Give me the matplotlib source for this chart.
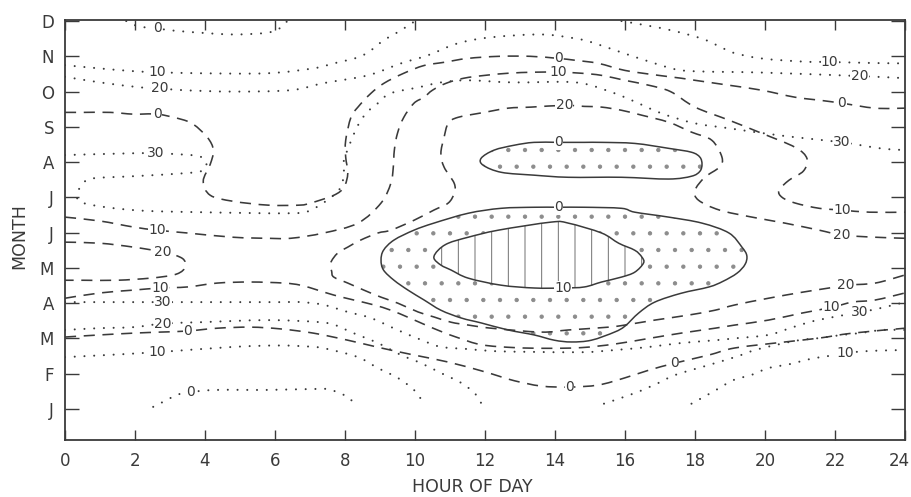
import numpy as np
import matplotlib
matplotlib.use("Agg")
import matplotlib.pyplot as plt
import matplotlib.transforms as mtransforms
from matplotlib.path import Path
from matplotlib.patches import PathPatch

plt.rcParams['font.family'] = ['DejaVu Sans']
plt.rcParams['lines.scale_dashes'] = False
plt.rcParams['hatch.linewidth'] = 0.7

# ---------------- axes content ----------------
month_labels = ['J', 'F', 'M', 'A', 'M', 'J', 'J', 'A', 'S', 'O', 'N', 'D']
hour_ticks = list(range(0, 25, 2))

# Isolines: (hour of day, month index J=0 ... D=11)
# ---- dotted isolines ----
dot_0_top = [(1.75, 11.0), (2.1, 10.85), (2.64, 10.79), (3.1, 10.73), (4.0, 10.66), (4.8, 10.62),
             (5.6, 10.65), (6.0, 10.72), (6.2, 10.85), (6.35, 11.0)]
dot_10_top_left = [(0, 9.75), (0.95, 9.66), (1.95, 9.58), (2.63, 9.55), (3.87, 9.52), (5.79, 9.52),
                   (7.1, 9.66), (7.68, 9.8), (8.37, 9.97), (8.74, 10.17), (9.1, 10.45), (9.6, 10.74),
                   (10.0, 11.0)]
dot_10_top_right = [(15.9, 11.0), (16.6, 10.88), (17.4, 10.72), (18.2, 10.5), (18.7, 10.28),
                    (19.1, 10.1), (19.9, 9.94), (21.1, 9.85), (21.85, 9.84), (23.1, 9.81), (24, 9.8)]
dot_20_top = [(0, 9.42), (1.0, 9.26), (2.15, 9.12), (2.72, 9.09), (3.38, 9.04), (4.81, 9.0),
              (6.45, 9.04), (7.39, 9.24), (8.65, 9.46), (9.6, 9.8), (10.37, 10.03), (11.23, 10.37),
              (12.18, 10.54), (13.61, 10.62), (14.56, 10.51), (15.04, 10.4), (15.9, 10.11),
              (16.85, 9.8), (17.5, 9.62), (18.2, 9.57), (19.9, 9.54), (22.7, 9.44), (24, 9.38)]
dot_30_upper = [(0, 7.2), (1.9, 7.25), (2.6, 7.25), (3.6, 7.2), (3.9, 7.14), (4.04, 6.97),
                (3.95, 6.77), (3.5, 6.69), (1.95, 6.6), (0.8, 6.54), (0.52, 6.4), (0.37, 6.12),
                (0.52, 5.84), (1.95, 5.64), (3.87, 5.58), (6.45, 5.55), (7.02, 5.64), (7.6, 6.0),
                (7.88, 6.29), (7.97, 6.69), (7.97, 7.05), (8.3, 7.9), (8.6, 8.38), (8.94, 8.67),
                (9.3, 8.95), (10.1, 9.12), (10.74, 9.26), (11.5, 9.32), (12.8, 9.26), (14.6, 9.26),
                (15.62, 8.98), (16.2, 8.75), (17.05, 8.38), (18.0, 8.1), (18.97, 7.96), (20.4, 7.76),
                (22.2, 7.56), (23.3, 7.39), (24, 7.34)]
dot_30_lower = [(0, 3.03), (2.8, 3.03), (3.9, 3.03), (6.2, 3.03), (6.75, 3.03), (7.4, 2.95),
                (8.08, 2.75), (8.74, 2.58), (9.5, 2.24), (10.2, 1.95), (10.74, 1.76), (11.5, 1.7),
                (12.26, 1.64), (13.3, 1.62), (14.8, 1.61), (15.7, 1.67), (16.7, 1.76), (17.6, 1.87),
                (18.6, 1.95), (19.1, 2.0), (20.1, 2.1), (20.8, 2.32), (21.5, 2.52), (22.7, 2.74),
                (23.3, 2.86), (24, 3.03)]
dot_20_lower_left = [(0, 2.24), (0.95, 2.29), (1.95, 2.32), (2.8, 2.42), (3.87, 2.46), (5.79, 2.52),
                     (7.3, 2.46), (7.8, 2.35), (8.17, 2.18), (8.94, 1.87), (9.6, 1.53), (10.17, 1.3),
                     (10.74, 1.02), (11.32, 0.74), (11.7, 0.45), (11.9, 0.15)]
dot_20_lower_right = [(15.4, 0.15), (16.28, 0.45), (16.96, 0.74), (17.42, 0.96), (18.2, 1.19),
                      (19.14, 1.47), (19.71, 1.67), (20.29, 1.81), (20.97, 1.95), (21.55, 2.01),
                      (22.2, 2.1), (22.7, 2.15), (23.35, 2.24), (24, 2.24)]
dot_10_lower_left = [(0, 1.47), (1.0, 1.52), (2.63, 1.61), (4.8, 1.76), (6.16, 1.8), (7.1, 1.76),
                     (7.5, 1.7), (8.37, 1.47), (8.94, 1.16), (9.51, 0.88), (9.97, 0.54), (10.26, 0.15)]
dot_10_lower_right = [(17.9, 0.15), (18.5, 0.48), (19.1, 0.82), (19.6, 0.96), (20.1, 1.16),
                      (20.7, 1.27), (21.3, 1.42), (21.8, 1.5), (22.3, 1.59), (23.1, 1.65), (24, 1.67)]
dot_0_lower = [(2.52, 0.06), (2.9, 0.25), (3.2, 0.4), (3.58, 0.48), (4.35, 0.54), (5.8, 0.54),
               (7.3, 0.57), (7.6, 0.54), (8.08, 0.34), (8.25, 0.15)]

# ---- dashed isolines ----
dash_0_top = [(0, 8.41), (0.52, 8.41), (1.3, 8.41), (1.95, 8.36), (2.63, 8.36), (3.3, 8.22),
              (3.67, 8.07), (4.07, 7.7), (4.24, 7.34), (4.15, 6.94), (3.95, 6.46), (4.15, 6.06),
              (4.8, 5.89), (5.8, 5.78), (6.7, 5.78), (7.02, 5.84), (7.68, 6.06), (7.97, 6.29),
              (8.08, 6.69), (8.02, 7.14), (8.02, 7.62), (8.17, 8.27), (8.37, 8.56), (8.74, 8.95),
              (9.12, 9.24), (9.68, 9.52), (10.26, 9.74), (10.83, 9.83), (11.5, 9.94), (12.4, 10.0),
              (13.3, 10.0), (14.1, 9.94), (14.56, 9.89), (15.24, 9.8), (16.0, 9.6), (16.96, 9.46),
              (17.6, 9.38), (18.0, 9.32), (18.97, 9.18), (19.9, 9.04), (20.86, 8.84), (21.6, 8.75),
              (22.2, 8.67), (23.15, 8.53), (24, 8.53)]
dash_10_upper = [(0, 5.44), (1.0, 5.33), (1.95, 5.16), (2.63, 5.07), (3.5, 4.99), (4.8, 4.87),
                 (5.8, 4.84), (6.45, 4.84), (7.39, 4.99), (8.37, 5.27), (9.03, 5.84), (9.31, 6.4),
                 (9.38, 6.86), (9.41, 7.34), (9.5, 7.82), (9.68, 8.27), (9.97, 8.67), (10.26, 8.84),
                 (10.5, 9.04), (10.9, 9.24), (11.4, 9.38), (12.0, 9.46), (12.66, 9.52), (13.4, 9.55),
                 (14.1, 9.55), (14.76, 9.52), (15.33, 9.46), (15.99, 9.32), (16.68, 9.18),
                 (17.3, 9.0), (18.0, 8.56), (18.97, 8.19), (19.9, 7.82), (20.86, 7.42), (21.2, 7.1),
                 (21.1, 6.75), (20.69, 6.49), (20.4, 6.2), (20.49, 6.0), (20.86, 5.84), (21.55, 5.69),
                 (22.2, 5.64), (22.98, 5.58), (24, 5.58)]
dash_20_main = [(24, 4.84), (23.15, 4.87), (22.2, 4.93), (21.55, 5.07), (20.57, 5.27), (19.63, 5.44),
                (18.7, 5.64), (18.1, 5.92), (18.0, 6.2), (18.28, 6.57), (18.7, 6.86), (18.77, 7.14),
                (18.48, 7.62), (17.9, 7.85), (17.25, 8.13), (16.48, 8.33), (15.9, 8.47), (15.33, 8.56),
                (14.84, 8.58), (14.27, 8.61), (13.32, 8.56), (12.66, 8.53), (11.98, 8.41), (11.23, 8.27),
                (10.95, 8.1), (10.83, 7.7), (10.74, 7.25), (10.83, 6.86), (11.12, 6.4), (11.12, 6.12),
                (10.95, 5.84), (10.54, 5.64), (9.97, 5.35), (9.31, 5.07), (8.94, 4.99), (8.45, 4.79),
                (8.08, 4.59), (7.79, 4.42), (7.59, 4.14), (7.62, 3.9), (7.68, 3.74), (8.08, 3.57),
                (8.54, 3.37), (9.03, 3.17), (9.51, 3.0), (10.09, 2.75), (10.54, 2.61), (11.03, 2.46),
                (11.52, 2.38), (12.18, 2.29), (13.6, 2.18), (14.38, 2.24), (15.53, 2.32), (16.0, 2.38),
                (16.85, 2.52), (17.8, 2.66), (18.57, 2.8), (19.14, 2.95), (20.1, 3.14), (21.06, 3.31),
                (21.83, 3.43), (22.3, 3.51), (23.15, 3.57), (24, 3.8)]
dash_20_left = [(0, 4.73), (1.0, 4.7), (1.95, 4.59), (2.8, 4.45), (3.3, 4.3), (3.44, 4.14),
                (3.38, 3.94), (3.1, 3.8), (2.44, 3.71), (1.49, 3.65), (0.52, 3.65), (0, 3.65)]
dash_10_lower = [(0, 3.14), (1.0, 3.29), (1.95, 3.37), (2.72, 3.43), (3.5, 3.46), (4.35, 3.57),
                 (5.3, 3.6), (6.25, 3.57), (6.73, 3.51), (7.22, 3.37), (7.68, 3.23), (8.25, 3.09),
                 (8.83, 2.95), (9.31, 2.8), (9.8, 2.6), (10.26, 2.4), (10.74, 2.2), (11.23, 2.02),
                 (11.9, 1.82), (12.84, 1.74), (13.8, 1.72), (14.76, 1.74), (15.7, 1.84), (16.68, 2.0),
                 (17.6, 2.15), (18.57, 2.29), (19.14, 2.38), (20.1, 2.52), (21.06, 2.72), (21.9, 2.88),
                 (22.5, 3.03), (23.15, 3.09), (24, 3.29)]
dash_0_lower = [(0, 2.04), (1.0, 2.1), (1.95, 2.15), (2.72, 2.18), (3.5, 2.21), (4.35, 2.29),
                (5.3, 2.32), (6.16, 2.27), (7.1, 2.15), (8.08, 1.95), (9.03, 1.73), (9.97, 1.53),
                (10.95, 1.33), (11.9, 1.08), (12.4, 0.93), (12.84, 0.8), (13.6, 0.65), (14.41, 0.62),
                (15.24, 0.68), (15.99, 0.88), (16.68, 1.1), (17.42, 1.3), (18.4, 1.53), (19.14, 1.73),
                (20.57, 1.9), (21.55, 2.01), (22.5, 2.15), (24, 2.29)]

# ---- solid isolines (closed) ----
solid_0_small = [(14.1, 7.56), (13.4, 7.56), (12.84, 7.48), (12.26, 7.34), (11.89, 7.11),
                 (11.95, 6.91), (12.47, 6.71), (13.4, 6.63), (14.38, 6.57), (15.9, 6.57),
                 (17.25, 6.52), (17.9, 6.6), (18.14, 6.74), (18.2, 6.94), (18.14, 7.14), (17.9, 7.28),
                 (17.25, 7.39), (16.28, 7.53), (15.33, 7.56), (14.84, 7.56)]
solid_0_big = [(14.1, 5.72), (14.84, 5.72), (15.9, 5.69), (16.28, 5.58), (17.25, 5.44), (18.2, 5.27),
               (18.97, 4.99), (19.34, 4.59), (19.48, 4.35), (19.43, 4.1), (19.2, 3.85), (18.8, 3.62),
               (18.4, 3.46), (17.6, 3.28), (16.85, 3.03), (16.39, 2.72), (16.0, 2.35), (15.7, 2.18),
               (15.04, 1.95), (14.47, 1.9), (13.98, 1.95), (13.4, 2.1), (12.66, 2.24), (11.89, 2.44),
               (11.32, 2.58), (10.74, 2.8), (10.26, 3.09), (9.8, 3.37), (9.4, 3.65), (9.1, 3.94),
               (9.03, 4.22), (9.1, 4.5), (9.4, 4.79), (9.97, 5.07), (10.54, 5.27), (11.52, 5.55),
               (12.46, 5.69), (13.41, 5.72)]
solid_10 = [(14.24, 3.43), (14.84, 3.46), (15.33, 3.6), (15.9, 3.74), (16.28, 3.88), (16.53, 4.14),
            (16.48, 4.31), (16.28, 4.5), (15.82, 4.7), (15.33, 4.99), (14.38, 5.27), (13.9, 5.3),
            (12.38, 5.07), (11.52, 4.87), (10.95, 4.7), (10.66, 4.5), (10.54, 4.28), (10.74, 4.08),
            (11.03, 3.94), (11.52, 3.71), (12.46, 3.51), (13.41, 3.43)]

# ---- isoline labels ----
label_hour = [2.64, 2.63, 2.72, 2.6, 2.63, 2.63, 2.8, 2.72, 2.8, 2.8, 3.5, 2.63, 3.58,
              14.1, 14.1, 14.27, 14.1, 14.1, 14.24, 14.41, 17.42,
              21.85, 22.7, 22.2, 22.2, 22.2, 22.2, 22.3, 21.9, 22.7, 22.3]
label_month = [10.79, 9.55, 9.09, 7.25, 8.36, 5.07, 4.45, 3.43, 3.03, 2.42, 2.21, 1.61, 0.48,
               9.94, 9.55, 8.61, 7.56, 5.72, 3.43, 0.62, 1.3,
               9.84, 9.44, 8.67, 7.56, 5.64, 4.93, 3.51, 2.88, 2.74, 1.59]
label_text = ['0', '10', '20', '30', '0', '10', '20', '10', '30', '20', '0', '10', '0',
              '0', '10', '20', '0', '0', '10', '0', '0',
              '10', '20', '0', '30', '10', '20', '20', '10', '30', '10']

INK = '#3a3a3a'


def smooth_path(pts, closed=False):
    P = np.asarray(pts, dtype=float)
    n = len(P)
    if closed:
        ext = np.vstack([P[-1:], P, P[:2]])
        segs = n
    else:
        ext = np.vstack([P[:1], P, P[-1:]])
        segs = n - 1
    verts = [P[0]]
    codes = [Path.MOVETO]
    for i in range(segs):
        p0, p1, p2, p3 = ext[i], ext[i + 1], ext[i + 2], ext[i + 3]
        verts += [p1 + (p2 - p0) / 6.0, p2 - (p3 - p1) / 6.0, p2]
        codes += [Path.CURVE4] * 3
    if closed:
        verts.append(P[0])
        codes.append(Path.CLOSEPOLY)
    return Path(np.array(verts), codes)


fig = plt.figure(figsize=(9.12, 4.97), dpi=100)
ax = fig.add_axes([65 / 912, 1 - 440 / 497, (905 - 65) / 912, (440 - 20) / 497])
ax.set_xlim(0, 24)
ax.set_ylim(-0.88, 11.03)

# shaded regions
for poly in (solid_0_small, solid_0_big):
    ax.add_patch(PathPatch(smooth_path(poly, True), facecolor='none', edgecolor='#8c8c8c',
                           lw=0, hatch='.', zorder=1))
ax.add_patch(PathPatch(smooth_path(solid_10, True), facecolor='white', edgecolor='#707070',
                       lw=0, hatch='|', zorder=1.5))

dotted_style = dict(fill=False, edgecolor=INK, lw=1.5, linestyle=(0, (0.01, 7.0)),
                    capstyle='round', zorder=3)
dashed_style = dict(fill=False, edgecolor=INK, lw=1.15, linestyle=(0, (8.0, 5.5)),
                    capstyle='butt', zorder=3)
solid_style = dict(fill=False, edgecolor=INK, lw=1.1, zorder=3)

for line in (dot_0_top, dot_10_top_left, dot_10_top_right, dot_20_top, dot_30_upper,
             dot_30_lower, dot_20_lower_left, dot_20_lower_right, dot_10_lower_left,
             dot_10_lower_right, dot_0_lower):
    ax.add_patch(PathPatch(smooth_path(line), **dotted_style))

for line in (dash_0_top, dash_10_upper, dash_20_main, dash_20_left, dash_10_lower, dash_0_lower):
    ax.add_patch(PathPatch(smooth_path(line), **dashed_style))

for poly in (solid_0_small, solid_0_big, solid_10):
    ax.add_patch(PathPatch(smooth_path(poly, True), **solid_style))

for h, m, t in zip(label_hour, label_month, label_text):
    ax.text(h, m, t, ha='center', va='center', fontsize=10, color=INK, zorder=5,
            bbox=dict(boxstyle='square,pad=0.02', fc='white', ec='none'))

ax.set_xticks(hour_ticks)
ax.set_xticklabels([str(h) for h in hour_ticks])
ax.set_yticks(range(len(month_labels)))
ax.set_yticklabels(month_labels)
ax.tick_params(axis='x', direction='in', length=7, width=1.0, top=True, pad=9,
               labelsize=12, colors=INK)
ax.tick_params(axis='y', direction='in', length=10, width=1.0, right=True, pad=8,
               labelsize=12, colors=INK)
# keep the last hour label inside the picture
last = ax.get_xticklabels()[-1]
last.set_transform(last.get_transform() +
                   mtransforms.ScaledTranslation(-6 / 100, 0, fig.dpi_scale_trans))
for sp in ax.spines.values():
    sp.set_linewidth(1.3)
    sp.set_color(INK)

fig.text(472 / 912, 1 - 487 / 497, 'HOUR OF DAY', ha='center', va='center', fontsize=12.5,
         color=INK)
fig.text(19 / 912, 1 - 236 / 497, 'MONTH', ha='center', va='center', rotation=90,
         fontsize=12.5, color=INK)

fig.savefig('out.png', dpi=100, facecolor='white')
